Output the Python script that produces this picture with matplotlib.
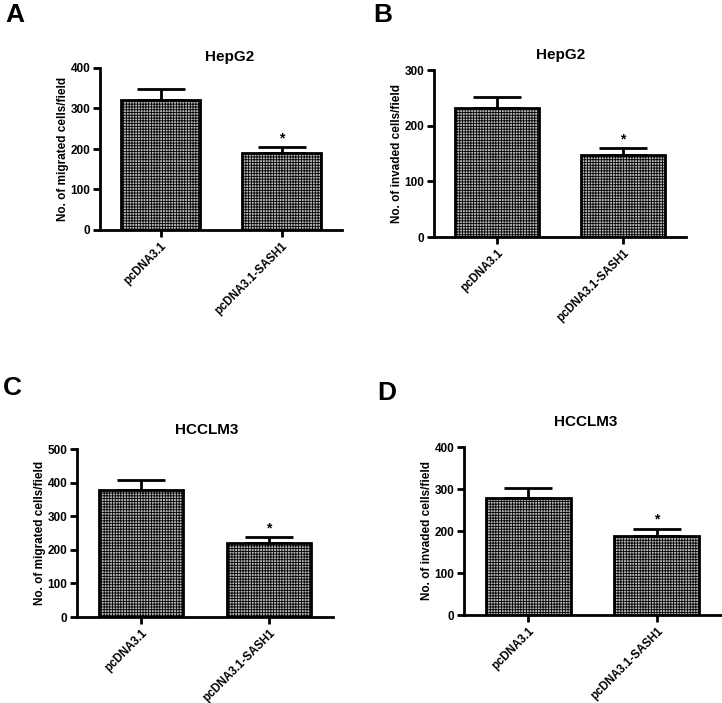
import matplotlib
matplotlib.use("Agg")
import matplotlib.pyplot as plt

plt.rcParams['font.family'] = ['Liberation Sans', 'DejaVu Sans']
plt.rcParams['font.weight'] = 'bold'
plt.rcParams['hatch.linewidth'] = 0.6
plt.rcParams['hatch.color'] = '#4a4a4a'

categories = ["pcDNA3.1", "pcDNA3.1-SASH1"]

a_means = [321, 190]
a_err = [28, 15]
b_means = [232, 147]
b_err = [20, 12]
c_means = [378, 220]
c_err = [30, 18]
d_means = [278, 188]
d_err = [24, 17]

panel_letters = ["A", "B", "C", "D"]
titles = ["HepG2", "HepG2", "HCCLM3", "HCCLM3"]
ylabels = ["No. of migrated cells/field", "No. of invaded cells/field",
           "No. of migrated cells/field", "No. of invaded cells/field"]
ymaxes = [400, 300, 500, 400]
ysteps = [100, 100, 100, 100]

fig = plt.figure(figsize=(7.22, 7.03), dpi=100)
W, H = 722, 703

def rect(l, r, b, t):
    return [l / W, 1 - b / H, (r - l) / W, (b - t) / H]

rects = [rect(100, 342, 230, 68), rect(434, 686, 237, 70),
         rect(77, 333, 617, 449), rect(464, 721, 615, 447)]
letter_pos = [(5, 22), (373, 22), (3, 395), (377, 400)]
title_pos = [(230, 57), (561, 55), (207, 430), (586, 422)]
data = [(a_means, a_err), (b_means, b_err), (c_means, c_err), (d_means, d_err)]

for i in range(4):
    ax = fig.add_axes(rects[i])
    means, errs = data[i]
    x = [0, 1]
    ax.bar(x, means, width=0.66, facecolor='#b8b8b8', edgecolor='black',
           linewidth=2, hatch='++++++', zorder=2)
    ax.errorbar(x, means, yerr=[[0, 0], errs], fmt='none', ecolor='black',
                elinewidth=2, capsize=17, capthick=2, zorder=1)
    ax.text(1, means[1] + errs[1] + ymaxes[i] * 0.012, "*", ha='center',
            va='bottom', fontsize=10, fontweight='bold')
    ax.set_xlim(-0.5, 1.5)
    ax.set_ylim(0, ymaxes[i])
    ax.set_yticks(range(0, ymaxes[i] + 1, ysteps[i]))
    ax.set_xticks(x)
    ax.set_xticklabels(categories, rotation=45, ha='right',
                       rotation_mode='anchor', fontsize=8.3, fontweight='bold')
    for lab in ax.get_yticklabels():
        lab.set_fontsize(8.5)
        lab.set_fontweight('bold')
    ax.spines['top'].set_visible(False)
    ax.spines['right'].set_visible(False)
    ax.spines['left'].set_linewidth(2)
    ax.spines['bottom'].set_linewidth(2)
    ax.tick_params(axis='both', direction='out', length=5, width=2, pad=2)
    ax.set_ylabel(ylabels[i], fontsize=8.5, fontweight='bold', labelpad=1)
    tx, ty = title_pos[i]
    fig.text(tx / W, 1 - ty / H, titles[i], fontsize=11, fontweight='bold',
             ha='center', va='center')
    lx, ly = letter_pos[i]
    fig.text(lx / W, 1 - ly / H, panel_letters[i], fontsize=19,
             fontweight='bold', ha='left', va='baseline')

fig.savefig("out.png", dpi=100)
